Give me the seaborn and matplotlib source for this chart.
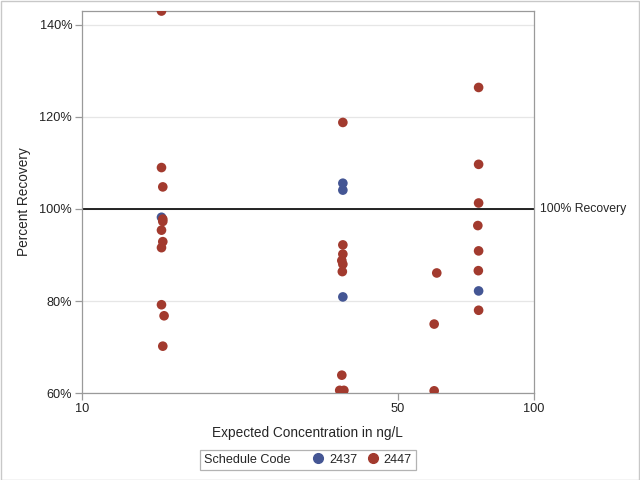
import pandas as pd
import matplotlib
matplotlib.use("Agg")
import matplotlib.pyplot as plt
import seaborn as sns
from matplotlib.lines import Line2D
from matplotlib.patches import Rectangle
from matplotlib.offsetbox import HPacker
from matplotlib.ticker import FixedLocator, FuncFormatter, NullLocator

# ---------------------------
# Data
# ---------------------------
conc_2437 = [15.0, 37.8, 37.8, 37.8, 75.5]
recovery_2437 = [98.2, 105.6, 104.1, 80.9, 82.2]

conc_2447 = [15.0, 15.0, 15.1, 15.1, 15.1, 15.0, 15.1, 15.0, 15.0, 15.2, 15.1,
             37.8, 37.8, 37.8, 37.6, 37.8, 37.7, 37.6, 37.2, 38.0,
             61.0, 60.2, 60.2,
             75.5, 75.5, 75.5, 75.2, 75.5, 75.4, 75.5]
recovery_2447 = [143.0, 109.0, 104.8, 97.8, 97.3, 95.4, 92.9, 91.6, 79.2, 76.8, 70.2,
                 118.8, 92.2, 90.2, 88.8, 88.0, 86.4, 63.9, 60.6, 60.6,
                 86.1, 75.0, 60.5,
                 126.4, 109.7, 101.3, 96.4, 90.9, 86.6, 78.0]

y_ticks = [60, 80, 100, 120, 140]
x_ticks = [10, 50, 100]

df = pd.DataFrame({
    "conc": conc_2437 + conc_2447,
    "recovery": recovery_2437 + recovery_2447,
    "code": ["2437"] * len(conc_2437) + ["2447"] * len(conc_2447),
})

palette = {"2437": "#445694", "2447": "#A23A2E"}

# ---------------------------
# Plot
# ---------------------------
sns.set_style("white")
plt.rcParams["font.family"] = ["Liberation Sans", "DejaVu Sans"]

fig = plt.figure(figsize=(6.4, 4.8), dpi=100)
ax = fig.add_axes([0.128, 0.181, 0.706, 0.796])

for y in y_ticks:
    ax.axhline(y, color="#E6E6E6", lw=0.9, zorder=0)
ax.axhline(100, color="black", lw=1.2, zorder=1)

sns.scatterplot(data=df, x="conc", y="recovery", hue="code", palette=palette,
                s=48, linewidth=0, legend=False, ax=ax, zorder=3)

ax.set_xscale("log")
ax.set_xlim(10, 100)
ax.set_ylim(60, 143)
ax.xaxis.set_major_locator(FixedLocator(x_ticks))
ax.xaxis.set_minor_locator(NullLocator())
ax.xaxis.set_major_formatter(FuncFormatter(lambda v, p: f"{v:g}"))
ax.set_yticks(y_ticks)
ax.yaxis.set_major_formatter(FuncFormatter(lambda v, p: f"{v:.0f}%"))

ax.tick_params(axis="both", direction="out", length=5, width=0.9,
               color="#9A9A9A", labelsize=9.2, labelcolor="#222222")
ax.tick_params(axis="x", pad=2)
ax.tick_params(axis="y", pad=2)
ax.tick_params(bottom=True, left=True)
for sp in ax.spines.values():
    sp.set_color("#9A9A9A")
    sp.set_linewidth(0.9)

ax.set_xlabel("Expected Concentration in ng/L", fontsize=9.8, labelpad=8)
ax.set_ylabel("Percent Recovery", fontsize=9.8, labelpad=6)

ax.text(1.013, 100, "100% Recovery", transform=ax.get_yaxis_transform(),
        va="center", ha="left", fontsize=8.8)

# legend with the title inline, SAS style
h1 = Line2D([], [], marker="o", linestyle="none", color=palette["2437"], markersize=7)
h2 = Line2D([], [], marker="o", linestyle="none", color=palette["2447"], markersize=7)
leg = fig.legend(handles=[h1, h2], labels=["2437", "2447"], title="Schedule Code",
                 ncol=2, loc="center", bbox_to_anchor=(0.481, 0.042),
                 fontsize=9.1, title_fontsize=9.1, frameon=True, fancybox=False,
                 handlelength=0.5, handletextpad=0.6, columnspacing=1.0, borderpad=0.3)
old_box = leg._legend_box
new_box = HPacker(pad=old_box.pad, sep=18, align="center",
                  children=old_box.get_children())
new_box.set_figure(fig)
new_box.set_offset(leg._findoffset)
leg._legend_box = new_box
leg.get_frame().set_edgecolor("#A0A0A0")
leg.get_frame().set_linewidth(0.9)

fig.patches.append(Rectangle((0.001, 0.001), 0.998, 0.997, transform=fig.transFigure,
                             fill=False, edgecolor="#C8C8C8", lw=1))

plt.savefig("out.png", dpi=100)
plt.close()
